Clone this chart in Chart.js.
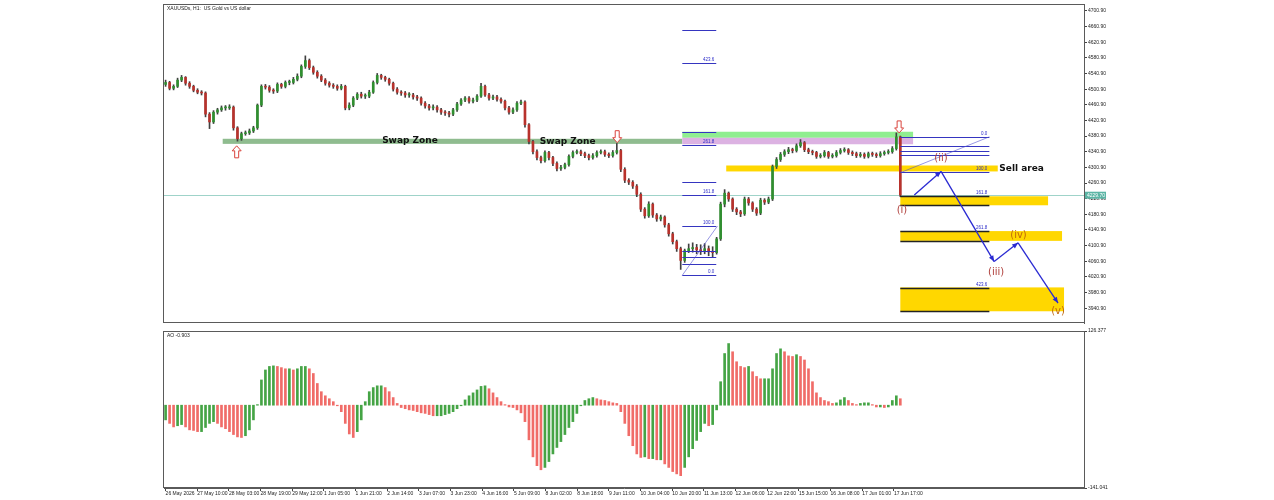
<!DOCTYPE html>
<html>
<head>
<meta charset="utf-8">
<script src="https://cdn.jsdelivr.net/npm/chart.js@4.4.1/dist/chart.umd.min.js"></script>
<style>
html,body{margin:0;padding:0;background:#fff;}
#wrap{position:relative;width:1274px;height:500px;overflow:hidden;}
canvas{position:absolute;left:0;}
#price{top:0;}
#ao{top:327px;}
</style>
</head>
<body>
<div id="wrap">
<canvas id="price" width="1274" height="327"></canvas>
<canvas id="ao" width="1274" height="173"></canvas>
</div>
<script>
// XAUUSDs H1, one candle per 2 hours
const firstOpen = 4513;
const closes = [
  4518,4503,4508,4524,4531,4516,4508,4498,4493,4491,
  4437,4417,4442,4448,4453,4453,4455,4402,4374,4387,
  4389,4394,4402,4460,4508,4506,4498,4496,4513,4508,
  4518,4518,4526,4534,4559,4574,4556,4544,4534,4524,
  4516,4511,4508,4503,4508,4453,4460,4478,4488,4483,
  4483,4493,4518,4536,4531,4526,4516,4501,4493,4491,
  4486,4486,4481,4478,4465,4458,4453,4455,4448,4442,
  4440,4437,4448,4463,4473,4478,4470,4473,4483,4508,
  4486,4478,4481,4475,4470,4453,4442,4448,4465,4468,
  4410,4367,4341,4326,4318,4339,4326,4311,4298,4301,
  4308,4329,4339,4341,4336,4331,4326,4331,4339,4341,
  4334,4331,4339,4344,4296,4268,4263,4253,4232,4194,
  4177,4207,4179,4169,4174,4154,4131,4111,4093,4063,
  4088,4093,4096,4090,4088,4093,4085,4083,4118,4207,
  4235,4220,4194,4187,4182,4220,4210,4194,4184,4217,
  4212,4220,4303,4321,4334,4341,4346,4344,4356,4364,
  4346,4341,4339,4329,4331,4339,4329,4331,4339,4344,
  4346,4339,4336,4331,4334,4329,4336,4334,4331,4336,
  4339,4341,4349,4379,4230
];
const highs = [
  4524,4521,4512,4529,4536,4533,4520,4511,4502,4497,
  4494,4441,4446,4452,4458,4459,4461,4458,4405,4391,
  4394,4399,4406,4463,4512,4513,4510,4502,4517,4516,
  4522,4524,4531,4540,4563,4586,4578,4560,4548,4538,
  4528,4520,4515,4512,4513,4511,4466,4482,4492,4493,
  4489,4498,4522,4541,4539,4534,4529,4519,4505,4497,
  4495,4492,4490,4485,4481,4469,4462,4461,4459,4452,
  4446,4444,4452,4467,4477,4482,4482,4478,4487,4516,
  4511,4490,4486,4485,4479,4473,4457,4453,4469,4473,
  4471,4413,4370,4346,4330,4343,4342,4329,4315,4306,
  4312,4333,4343,4346,4345,4340,4335,4336,4343,4346,
  4345,4338,4344,4362,4347,4300,4272,4267,4257,4236,
  4198,4213,4210,4183,4179,4177,4158,4135,4115,4097,
  4092,4105,4108,4104,4103,4106,4100,4098,4122,4212,
  4244,4238,4223,4198,4191,4225,4224,4213,4198,4222,
  4221,4225,4307,4326,4339,4346,4352,4350,4361,4372,
  4367,4350,4345,4342,4336,4344,4342,4336,4344,4349,
  4351,4349,4343,4340,4339,4338,4340,4340,4338,4341,
  4343,4346,4354,4389,4381
];
const lows = [
  4508,4499,4499,4505,4520,4511,4503,4494,4489,4486,
  4430,4400,4413,4437,4444,4447,4449,4396,4368,4370,
  4383,4385,4390,4398,4456,4501,4493,4490,4492,4503,
  4504,4512,4514,4522,4530,4554,4551,4539,4529,4520,
  4511,4506,4503,4498,4499,4448,4448,4456,4474,4478,
  4477,4479,4490,4514,4526,4521,4511,4496,4488,4485,
  4480,4480,4475,4472,4460,4452,4447,4448,4442,4436,
  4434,4430,4433,4444,4459,4469,4465,4466,4469,4480,
  4482,4473,4474,4470,4465,4448,4437,4438,4444,4461,
  4404,4361,4335,4320,4312,4314,4320,4305,4292,4293,
  4297,4304,4325,4335,4331,4326,4320,4322,4327,4335,
  4329,4326,4327,4335,4290,4262,4257,4247,4226,4188,
  4171,4173,4173,4163,4164,4148,4125,4105,4086,4040,
  4058,4083,4084,4080,4078,4080,4075,4070,4079,4114,
  4200,4214,4188,4180,4175,4178,4204,4188,4178,4180,
  4206,4208,4216,4298,4316,4329,4336,4338,4340,4352,
  4341,4336,4333,4324,4325,4327,4324,4325,4327,4335,
  4340,4334,4331,4326,4327,4324,4325,4329,4326,4327,
  4332,4335,4337,4345,4226
];
const aoValues = [
  -25,-31,-37,-35,-33,-37,-42,-43,-45,-45,
  -38,-31,-28,-31,-37,-40,-45,-50,-54,-55,
  -52,-42,-25,1,43,60,66,67,66,64,
  62,62,60,62,66,66,62,54,37,23,
  16,11,6,-1,-11,-31,-49,-55,-45,-25,
  6,23,30,33,33,30,23,13,3,-4,
  -6,-8,-9,-11,-13,-14,-16,-18,-18,-18,
  -16,-14,-11,-6,-1,9,16,21,26,32,
  33,28,21,13,6,1,-3,-4,-8,-13,
  -28,-59,-88,-103,-110,-106,-96,-83,-72,-62,
  -50,-38,-28,-14,-1,8,11,13,11,9,
  8,6,4,3,-11,-31,-52,-69,-83,-89,
  -88,-91,-91,-93,-93,-100,-106,-113,-117,-120,
  -106,-88,-74,-60,-45,-31,-35,-33,-8,40,
  88,105,91,74,66,64,66,57,49,45,
  45,45,62,88,96,91,84,83,86,83,
  77,62,40,21,13,8,6,3,4,9,
  13,8,3,1,3,4,4,1,-3,-3,
  -4,-3,8,16,11
];
const timeLabels = ['26 May 2026','27 May 10:00','28 May 03:00','28 May 19:00','29 May 12:00',
  '1 Jun 05:00','1 Jun 21:00','2 Jun 14:00','3 Jun 07:00','3 Jun 23:00','4 Jun 16:00',
  '5 Jun 09:00','8 Jun 02:00','8 Jun 18:00','9 Jun 11:00','10 Jun 04:00','10 Jun 20:00',
  '11 Jun 13:00','12 Jun 06:00','12 Jun 22:00','15 Jun 15:00','16 Jun 08:00','17 Jun 01:00','17 Jun 17:00'];
const priceTicks = [4700.90,4660.90,4620.90,4580.90,4540.90,4500.90,4460.90,4420.90,4380.90,
  4340.90,4300.90,4260.90,4220.90,4180.90,4140.90,4100.90,4060.90,4020.90,3980.90,3940.90];
const aoTicks = [126.377, -141.041];
const bidPrice = 4229.7;
const bidText = '4229.70';

// drawings, in bar index / price units
const zones = [
  {x0: 14.3, x1: 129.4, lo: 4361, hi: 4374, color: '#8fbc8f'},
  {x0: 129.4, x1: 187.2, lo: 4376.5, hi: 4392, color: '#90ee90'},
  {x0: 129.4, x1: 187.2, lo: 4360, hi: 4376.5, color: '#dcb2e2'},
  {x0: 140.4, x1: 208.4, lo: 4290.5, hi: 4305.7, color: '#ffd700'},
  {x0: 184, x1: 221, lo: 4204, hi: 4227, color: '#ffd700'},
  {x0: 184, x1: 224.5, lo: 4113, hi: 4138, color: '#ffd700'},
  {x0: 184, x1: 225, lo: 3933, hi: 3994, color: '#ffd700'}
];
const fibLeftLevels = [4652,4567,4392,4359,4263,4230,4151,4088,4073,4055,4025];
const fibLeftNames = ['','423.6','','261.8','','161.8','100.0','','','','0.0'];
const fibRightLevels = [4379,4356,4344,4333,4288];
const fibRightNames = ['0.0','','','','100.0'];
const fibRightZoneLevels = [4227,4204,4138,4113,3992,3933];
const fibRightZoneNames = ['161.8','','261.8','','423.6',''];
const wavePath = [[187.5,4230],[194.2,4290.5],[207.5,4060],[213.5,4108],[223.5,3954]];
const waveNames = [
  {t: '(i)', x: 184.4, y: 4192, c: '#b0403c'},
  {t: '(ii)', x: 194.2, y: 4323, c: '#b0403c'},
  {t: '(iii)', x: 208, y: 4032, c: '#b0403c'},
  {t: '(iv)', x: 213.6, y: 4126, c: '#c0680c'},
  {t: '(v)', x: 223.5, y: 3933, c: '#c0680c'}
];
const markArrows = [{x: 17.8, y: 4356, up: true}, {x: 113.1, y: 4364, up: false}, {x: 183.7, y: 4389, up: false}];

const opens = [firstOpen].concat(closes.slice(0, -1));
const bull = '#2f8f2f', bear = '#b8322c', wick = '#404040';
const frameColor = '#5a5a5a';
const smallFont = {family: 'Liberation Sans', size: 5};
const X_MIN = -0.4, X_MAX = 230;

const frame = {
  id: 'frame',
  afterDraw(chart) {
    const {ctx, chartArea: a} = chart;
    ctx.save();
    ctx.strokeStyle = frameColor;
    ctx.lineWidth = 1;
    ctx.strokeRect(Math.floor(a.left) - 0.5, Math.floor(a.top) + 0.5, Math.round(a.width) + 1, Math.round(a.height) - 1);
    ctx.restore();
  }
};

function blockArrow(ctx, x, y, up) {
  const d = up ? 1 : -1;
  ctx.beginPath();
  ctx.moveTo(x, y);
  ctx.lineTo(x + 4.5, y + 5 * d);
  ctx.lineTo(x + 2, y + 5 * d);
  ctx.lineTo(x + 2, y + 12 * d);
  ctx.lineTo(x - 2, y + 12 * d);
  ctx.lineTo(x - 2, y + 5 * d);
  ctx.lineTo(x - 4.5, y + 5 * d);
  ctx.closePath();
  ctx.fillStyle = '#fff';
  ctx.fill();
  ctx.strokeStyle = '#d9433c';
  ctx.lineWidth = 1;
  ctx.stroke();
}

function arrowLine(ctx, x0, y0, x1, y1) {
  ctx.beginPath();
  ctx.moveTo(x0, y0);
  ctx.lineTo(x1, y1);
  ctx.stroke();
  const ang = Math.atan2(y1 - y0, x1 - x0);
  ctx.beginPath();
  ctx.moveTo(x1, y1);
  ctx.lineTo(x1 - 6 * Math.cos(ang) + 2.5 * Math.sin(ang), y1 - 6 * Math.sin(ang) - 2.5 * Math.cos(ang));
  ctx.lineTo(x1 - 6 * Math.cos(ang) - 2.5 * Math.sin(ang), y1 - 6 * Math.sin(ang) + 2.5 * Math.cos(ang));
  ctx.closePath();
  ctx.fill();
}

const priceDecor = {
  id: 'priceDecor',
  beforeDatasetsDraw(chart) {
    const {ctx, chartArea: a, scales: {x, y}} = chart;
    ctx.save();
    ctx.beginPath(); ctx.rect(a.left, a.top, a.width, a.height); ctx.clip();
    zones.forEach(z => {
      const x0 = x.getPixelForValue(z.x0), x1 = x.getPixelForValue(z.x1);
      const y0 = y.getPixelForValue(z.hi), y1 = y.getPixelForValue(z.lo);
      ctx.fillStyle = z.color;
      ctx.fillRect(x0, y0, x1 - x0, y1 - y0);
    });
    const by = Math.round(y.getPixelForValue(bidPrice)) + 0.5;
    ctx.strokeStyle = '#9fd3c9';
    ctx.lineWidth = 1;
    ctx.beginPath(); ctx.moveTo(a.left, by); ctx.lineTo(a.right, by); ctx.stroke();
    ctx.restore();
  },
  afterDatasetsDraw(chart) {
    const {ctx, chartArea: a, scales: {x, y}} = chart;
    ctx.save();
    ctx.beginPath(); ctx.rect(a.left, a.top, a.width, a.height); ctx.clip();
    const hline = (x0, x1, v, color, w) => {
      const py = Math.round(y.getPixelForValue(v)) + 0.5;
      ctx.strokeStyle = color; ctx.lineWidth = w;
      ctx.beginPath(); ctx.moveTo(x.getPixelForValue(x0), py); ctx.lineTo(x.getPixelForValue(x1), py); ctx.stroke();
      return py;
    };
    const fibLabel = (x1, py, txt) => {
      if (!txt) return;
      ctx.fillStyle = '#2b2bc8';
      ctx.font = '4.5px "Liberation Sans"';
      ctx.textAlign = 'right'; ctx.textBaseline = 'bottom';
      ctx.fillText(txt, x.getPixelForValue(x1) - 2, py - 1);
    };
    // left fibonacci expansion
    fibLeftLevels.forEach((v, i) => fibLabel(137.9, hline(129.4, 137.9, v, '#3535c0', 1.2), fibLeftNames[i]));
    ctx.strokeStyle = '#5050d0'; ctx.lineWidth = 0.6;
    ctx.beginPath();
    ctx.moveTo(x.getPixelForValue(129.4), y.getPixelForValue(4025));
    ctx.lineTo(x.getPixelForValue(138.2), y.getPixelForValue(4151));
    ctx.stroke();
    // right fibonacci expansion
    fibRightLevels.forEach((v, i) => fibLabel(206.3, hline(184, 206.3, v, '#3535c0', 1.2), fibRightNames[i]));
    fibRightZoneLevels.forEach((v, i) => fibLabel(206.3, hline(184, 206.3, v, '#222', 1.3), fibRightZoneNames[i]));
    ctx.strokeStyle = '#5050d0'; ctx.lineWidth = 0.6;
    ctx.beginPath();
    ctx.moveTo(x.getPixelForValue(184.2), y.getPixelForValue(4288));
    ctx.lineTo(x.getPixelForValue(206.3), y.getPixelForValue(4379));
    ctx.stroke();
    // wave path
    ctx.strokeStyle = '#2a2ad2'; ctx.fillStyle = '#2a2ad2'; ctx.lineWidth = 1.3;
    for (let i = 1; i < wavePath.length; i++) {
      arrowLine(ctx, x.getPixelForValue(wavePath[i - 1][0]), y.getPixelForValue(wavePath[i - 1][1]),
        x.getPixelForValue(wavePath[i][0]), y.getPixelForValue(wavePath[i][1]));
    }
    ctx.font = '10px "DejaVu Sans"';
    ctx.textAlign = 'center'; ctx.textBaseline = 'middle';
    waveNames.forEach(w => {
      ctx.fillStyle = w.c;
      ctx.fillText(w.t, x.getPixelForValue(w.x), y.getPixelForValue(w.y));
    });
    // texts
    ctx.fillStyle = '#111';
    ctx.font = 'bold 9px "DejaVu Sans"';
    ctx.fillText('Swap Zone', x.getPixelForValue(61.2), y.getPixelForValue(4368));
    ctx.fillText('Swap Zone', x.getPixelForValue(100.7), y.getPixelForValue(4366));
    ctx.textAlign = 'left';
    ctx.fillText('Sell area', x.getPixelForValue(208.8), y.getPixelForValue(4298));
    markArrows.forEach(m => blockArrow(ctx, x.getPixelForValue(m.x), y.getPixelForValue(m.y), m.up));
    ctx.restore();
  },
  afterDraw(chart) {
    const {ctx, chartArea: a, scales: {y}} = chart;
    ctx.save();
    ctx.fillStyle = '#222';
    ctx.font = '5px "Liberation Sans"';
    ctx.textAlign = 'left'; ctx.textBaseline = 'top';
    ctx.fillText('XAUUSDs, H1:  US Gold vs US dollar', a.left + 3, a.top + 2);
    const by = y.getPixelForValue(bidPrice);
    ctx.fillStyle = '#5cb5a5';
    ctx.fillRect(a.right + 1, by - 3.5, 21, 7);
    ctx.fillStyle = '#fff';
    ctx.textBaseline = 'middle';
    ctx.fillText(bidText, a.right + 3, by);
    ctx.restore();
  }
};

const aoLabel = {
  id: 'aoLabel',
  afterDraw(chart) {
    const {ctx, chartArea: a} = chart;
    ctx.save();
    ctx.fillStyle = '#222';
    ctx.font = '5px "Liberation Sans"';
    ctx.textAlign = 'left'; ctx.textBaseline = 'top';
    ctx.fillText('AO -0.903', a.left + 3, a.top + 2);
    ctx.restore();
  }
};

const rightAxis = (min, max, ticks, fmt) => ({
  position: 'right', min, max,
  afterFit(s) { s.width = 190; },
  afterBuildTicks(s) { s.ticks = ticks.map(v => ({value: v})); },
  grid: {drawOnChartArea: false, drawTicks: true, tickLength: 3, color: '#444'},
  border: {display: true, color: frameColor},
  ticks: {font: smallFont, color: '#222', padding: 1, autoSkip: false, callback: fmt}
});

const idx = closes.map((_, i) => i);

new Chart(document.getElementById('price'), {
  type: 'bar',
  data: {
    datasets: [
      {
        data: idx.map(i => ({x: i, y: [Math.min(opens[i], closes[i]), Math.max(opens[i], closes[i])]})),
        backgroundColor: idx.map(i => closes[i] >= opens[i] ? bull : bear),
        barThickness: 2, minBarLength: 1, grouped: false
      },
      {
        data: idx.map(i => ({x: i, y: [lows[i], highs[i]]})),
        backgroundColor: wick,
        barThickness: 1, grouped: false
      }
    ]
  },
  options: {
    responsive: false, animation: false, events: [],
    devicePixelRatio: 1,
    layout: {padding: {left: 164, top: 3, right: 0, bottom: 2}},
    plugins: {legend: {display: false}, tooltip: {enabled: false}},
    scales: {
      x: {type: 'linear', min: X_MIN, max: X_MAX, offset: false, display: false},
      y: rightAxis(3903, 4718.6, priceTicks, v => v.toFixed(2))
    }
  },
  plugins: [priceDecor, frame]
});

new Chart(document.getElementById('ao'), {
  type: 'bar',
  data: {
    datasets: [{
      data: idx.map(i => ({x: i, y: aoValues[i]})),
      backgroundColor: idx.map(i => (i > 0 && aoValues[i] < aoValues[i - 1]) ? '#f06c68' : '#45a445'),
      barThickness: 2, grouped: false
    }]
  },
  options: {
    responsive: false, animation: false, events: [],
    devicePixelRatio: 1,
    layout: {padding: {left: 164, top: 3, right: 0, bottom: 0}},
    plugins: {legend: {display: false}, tooltip: {enabled: false}},
    scales: {
      x: {
        type: 'linear', min: X_MIN, max: X_MAX, offset: false,
        afterFit(s) { s.height = 12; },
        afterBuildTicks(s) { s.ticks = timeLabels.map((_, k) => ({value: k * 7.93})); },
        grid: {drawOnChartArea: false, drawTicks: true, tickLength: 3, color: '#444', offset: false},
        border: {display: true, color: frameColor},
        ticks: {font: smallFont, color: '#222', padding: 0, align: 'start', maxRotation: 0, autoSkip: false,
          callback: (v, i) => timeLabels[i]}
      },
      y: rightAxis(-141.041, 126.377, aoTicks, v => v.toFixed(3))
    }
  },
  plugins: [aoLabel, frame]
});
</script>
</body>
</html>
